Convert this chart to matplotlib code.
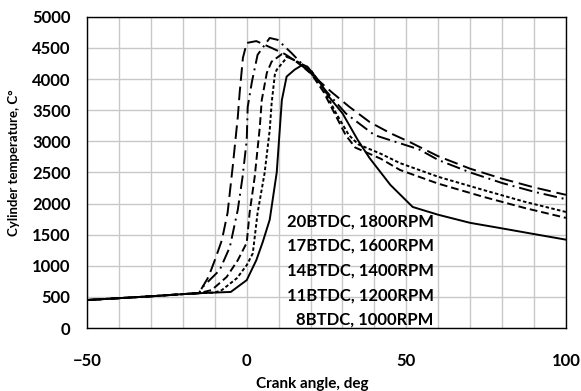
import matplotlib
matplotlib.use("Agg")
import matplotlib.pyplot as plt
from matplotlib.ticker import MultipleLocator

plt.rcParams['font.family'] = ['Lato', 'DejaVu Sans']
plt.rcParams['font.weight'] = 'bold'
plt.rcParams['axes.labelweight'] = 'bold'

# shared compression part of all curves
base_x = [-50, -40, -30, -20, -15]
base_t = [450, 480, 510, 545, 560]

# 20BTDC, 1800RPM
x20 = base_x + [-12, -10, -7.8, -6, -4.4, -2.8, -2.2, -1.2, 0, 3, 7.8, 12, 17, 22, 26.6, 32, 38.5, 45, 51, 60, 70, 80, 90, 100]
t20 = base_t + [820, 1090, 1410, 1850, 2590, 3390, 3790, 4340, 4580, 4610, 4500, 4400, 4230, 4000, 3790, 3560, 3310, 3130, 2990, 2760, 2560, 2400, 2260, 2140]

# 17BTDC, 1600RPM
x17 = base_x + [-13.8, -8.5, -5.3, -2.8, -1.3, 0, 0.3, 1.6, 3.4, 7.2, 9.7, 14, 20, 25, 31, 40, 54, 60, 70, 80, 90, 100]
t17 = base_t + [660, 930, 1300, 1900, 2430, 3020, 3550, 3950, 4390, 4660, 4630, 4420, 4100, 3800, 3450, 3100, 2870, 2700, 2500, 2330, 2190, 2070]

# 14BTDC, 1400RPM
x14 = base_x + [-11, -6.3, -2.8, 0, 0.9, 2.5, 4.1, 4.7, 6.3, 7.8, 11, 15, 20, 24, 28, 31, 34, 42, 48, 60, 74, 87, 100]
t14 = base_t + [610, 820, 1090, 1370, 1850, 2430, 3230, 3660, 4100, 4280, 4400, 4300, 4100, 3800, 3400, 3100, 2900, 2720, 2540, 2320, 2110, 1930, 1770]

# 11BTDC, 1200RPM
x11 = base_x + [-10, -7.8, -3.1, 0, 1.9, 3.4, 5.6, 7.2, 7.8, 8.8, 9.4, 12.8, 17, 20, 24, 28, 32, 35, 42, 48, 60, 74, 87, 100]
t11 = base_t + [570, 610, 800, 1010, 1200, 1850, 2490, 3180, 3610, 4070, 4150, 4360, 4250, 4150, 3850, 3450, 3100, 2950, 2800, 2650, 2430, 2220, 2030, 1865]

# 8BTDC, 1000RPM
x8 = base_x + [-10, -5, 0, 3, 5, 7.2, 9.4, 11, 12.5, 15, 17.5, 19, 22.3, 26, 30, 34.8, 38.5, 45, 52, 60, 70, 79, 90, 100]
t8 = base_t + [570, 580, 770, 1090, 1380, 1740, 2500, 3660, 4040, 4150, 4230, 4200, 3990, 3700, 3450, 3020, 2730, 2300, 1945, 1820, 1690, 1610, 1510, 1420]

labels = ['20BTDC, 1800RPM', '17BTDC, 1600RPM', '14BTDC, 1400RPM',
          '11BTDC, 1200RPM', '8BTDC, 1000RPM']

fig = plt.figure(figsize=(5.81, 3.91), dpi=100)
ax = fig.add_axes([0.150, 0.161, 0.824, 0.796])

lw = 1.4
ax.plot(x20, t20, color='black', lw=lw, dashes=(7, 3), label=labels[0])
ax.plot(x17, t17, color='black', lw=lw, dashes=(7, 2.5, 1, 2.5), label=labels[1])
ax.plot(x14, t14, color='black', lw=lw, dashes=(4, 2), label=labels[2])
ax.plot(x11, t11, color='black', lw=lw, dashes=(1.8, 1.2), label=labels[3])
ax.plot(x8, t8, color='black', lw=lw, label=labels[4])

ax.set_xlim(-50, 100)
ax.set_ylim(0, 5000)
ax.xaxis.set_major_locator(MultipleLocator(50))
ax.xaxis.set_minor_locator(MultipleLocator(10))
ax.yaxis.set_major_locator(MultipleLocator(500))
ax.grid(True, which='both', color='#c8c8c8', lw=1.0)
ax.set_axisbelow(True)
ax.tick_params(which='both', length=0)
ax.tick_params(axis='x', pad=18, labelsize=12)
ax.tick_params(axis='y', pad=12, labelsize=12)
for s in ax.spines.values():
    s.set_linewidth(1.0)

ax.set_xlabel('Crank angle, deg', fontsize=11)
ax.xaxis.set_label_coords(0.47, -0.158)
ax.xaxis.label.set_va('top')
ax.set_ylabel('Cylinder temperature, C°', fontsize=9.5)
ax.yaxis.set_label_coords(-0.14, 0.53)

leg = ax.legend(loc='lower right', bbox_to_anchor=(0.741, -0.026), frameon=False,
                handlelength=0, handletextpad=0, markerfirst=False, borderpad=0,
                fontsize=12, labelspacing=0.52)

fig.savefig('out.png', dpi=100)
